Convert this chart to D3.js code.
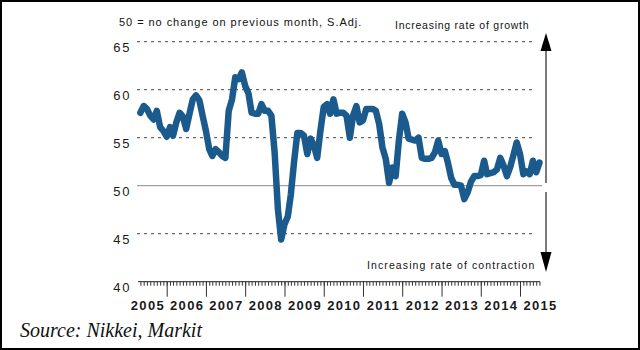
<!DOCTYPE html>
<html>
<head>
<meta charset="utf-8">
<script src="https://cdn.jsdelivr.net/npm/d3@7"></script>
<style>
  html, body { margin: 0; padding: 0; background: #fff; }
  svg { display: block; }
</style>
</head>
<body>
<svg id="chart" width="640" height="350" font-family="Liberation Sans, Arial, sans-serif"></svg>
<script>
// ---- data ----
const startYear = 2005, startMonth = 4; // May 2005 (0-based month)
const values = [
  57.6, 58.3, 58.0, 57.3, 56.9, 57.8, 56.1, 55.7,
  55.1, 56.1, 55.2, 56.6, 57.6, 57.2, 55.9, 57.5, 59.0, 59.4, 58.9, 57.3,
  55.7, 53.8, 53.1, 53.8, 53.5, 53.1, 52.9, 57.8, 59.0, 61.3, 61.1, 61.8,
  60.4, 59.6, 57.6, 57.5, 57.5, 58.5, 57.8, 57.8, 57.3, 53.5, 47.5, 44.4,
  46.0, 46.8, 49.1, 52.6, 55.5, 55.5, 55.2, 53.3, 54.9, 54.2, 52.9, 55.7,
  58.2, 58.5, 57.5, 59.0, 57.5, 57.6, 57.6, 57.3, 55.0, 57.3, 58.3, 56.6,
  56.8, 58.0, 58.0, 58.0, 57.8, 56.4, 54.0, 52.8, 50.3, 51.9, 51.0, 54.7,
  57.5, 56.6, 54.9, 54.8, 54.7, 55.0, 52.9, 52.8, 52.8, 52.9, 53.5, 54.7,
  53.3, 53.6, 52.4, 50.8, 50.1, 50.1, 50.0, 48.6, 49.3, 50.4, 51.0, 51.0,
  51.1, 52.6, 51.2, 51.3, 51.4, 51.7, 52.9, 52.1, 51.0, 51.9, 53.2, 54.5,
  53.3, 51.2, 51.5, 51.2, 52.6, 51.4, 52.4
];
const yearLabels = ["2005","2006","2007","2008","2009","2010","2011","2012","2013","2014","2015"];
const yTicks = [40, 45, 50, 55, 60, 65];
const noteText = "50 = no change on previous month, S.Adj.";
const growthText = "Increasing rate of growth";
const contractionText = "Increasing rate of contraction";
const sourceText = "Source: Nikkei, Markit";

const data = values.map((v, i) => ({ date: new Date(startYear, startMonth + i, 1), value: v }));

// ---- layout ----
const svg = d3.select("#chart");
svg.append("rect").attr("x", 1).attr("y", 1).attr("width", 638).attr("height", 348)
  .attr("fill", "#fff").attr("stroke", "#000").attr("stroke-width", 2);

const x = d3.scaleTime()
  .domain([new Date(2005, 3, 9), new Date(2015, 6, 6)])
  .range([138, 540]);
const y = d3.scaleLinear().domain([40, 65]).range([281.7, 41.7]);

// gridlines
const grid = svg.append("g");
grid.selectAll("line.g").data(yTicks.filter(t => t > 40)).join("line")
  .attr("x1", 137).attr("x2", t => t === 50 ? 542 : 536)
  .attr("y1", t => y(t)).attr("y2", t => y(t))
  .attr("stroke", t => t === 50 ? "#8a8a8a" : "#444")
  .attr("stroke-width", 1)
  .attr("stroke-dasharray", t => t === 50 ? null : "3,4");

// y labels (hang below gridline)
const yAxis = d3.axisLeft(y).tickValues(yTicks).tickSize(0).tickPadding(4);
const gy = svg.append("g").attr("transform", "translate(135,0)").call(yAxis);
gy.attr("font-family", null).attr("font-size", null);
gy.select(".domain").remove();
gy.selectAll("text")
  .attr("dy", "0.72em")
  .attr("font-size", 13)
  .attr("letter-spacing", "1.6px")
  .attr("fill", "#1a1a1a");

// x axis: monthly minor ticks and yearly major ticks
const months = d3.timeMonth.range(new Date(2005, 4, 1), new Date(2015, 6, 2));
const xMinor = d3.axisBottom(x).tickValues(months).tickSize(4).tickSizeOuter(0).tickFormat("");
const gxm = svg.append("g").attr("transform", `translate(0,${y(40)})`).call(xMinor);
gxm.select(".domain").attr("stroke", "#222").attr("d", `M${x.range()[0]},0H${x.range()[1]}`);
gxm.selectAll(".tick line").attr("stroke", "#333");

const years = d3.timeYear.range(new Date(2006, 0, 1), new Date(2015, 0, 2));
const xMajor = d3.axisBottom(x).tickValues(years).tickSize(15).tickSizeOuter(0).tickFormat("");
const gxM = svg.append("g").attr("transform", `translate(0,${y(40)})`).call(xMajor);
gxM.select(".domain").remove();
gxM.selectAll(".tick line").attr("stroke", "#333");

// year labels centred on mid-year
svg.append("g").selectAll("text").data(yearLabels).join("text")
  .attr("x", d => x(new Date(+d, 6, 1)) + 1)
  .attr("y", 310)
  .attr("text-anchor", "middle")
  .attr("font-size", 13)
  .attr("font-weight", "bold")
  .attr("letter-spacing", "1.3px")
  .attr("fill", "#1a1a1a")
  .text(d => d);

// line
const line = d3.line().x(d => x(d.date)).y(d => y(d.value));
svg.append("path").datum(data)
  .attr("d", line)
  .attr("fill", "none")
  .attr("stroke", "#1b5a8c")
  .attr("stroke-width", 6.5)
  .attr("stroke-linejoin", "round")
  .attr("stroke-linecap", "round");

// arrows
const ax = 546;
svg.append("line").attr("x1", ax).attr("x2", ax).attr("y1", 48).attr("y2", 183)
  .attr("stroke", "#222").attr("stroke-width", 1.2);
svg.append("path").attr("d", `M${ax},33L${ax - 5.5},51L${ax + 5.5},51Z`).attr("fill", "#000");
svg.append("line").attr("x1", ax).attr("x2", ax).attr("y1", 192).attr("y2", 255)
  .attr("stroke", "#222").attr("stroke-width", 1.2);
svg.append("path").attr("d", `M${ax},272L${ax - 5.5},252L${ax + 5.5},252Z`).attr("fill", "#000");

// annotations
svg.append("text").attr("x", 119).attr("y", 26).attr("font-size", 11)
  .attr("letter-spacing", "0.95px").attr("fill", "#111").text(noteText);
svg.append("text").attr("x", 395).attr("y", 29).attr("font-size", 10.5)
  .attr("letter-spacing", "0.75px").attr("fill", "#111").text(growthText);
svg.append("text").attr("x", 367).attr("y", 269).attr("font-size", 10.5)
  .attr("letter-spacing", "1.1px").attr("fill", "#111").text(contractionText);

// source
svg.append("text").attr("x", 20).attr("y", 337)
  .attr("font-family", "'Liberation Serif', 'Times New Roman', serif")
  .attr("font-style", "italic").attr("font-size", 20).attr("fill", "#111")
  .text(sourceText);
</script>
</body>
</html>
